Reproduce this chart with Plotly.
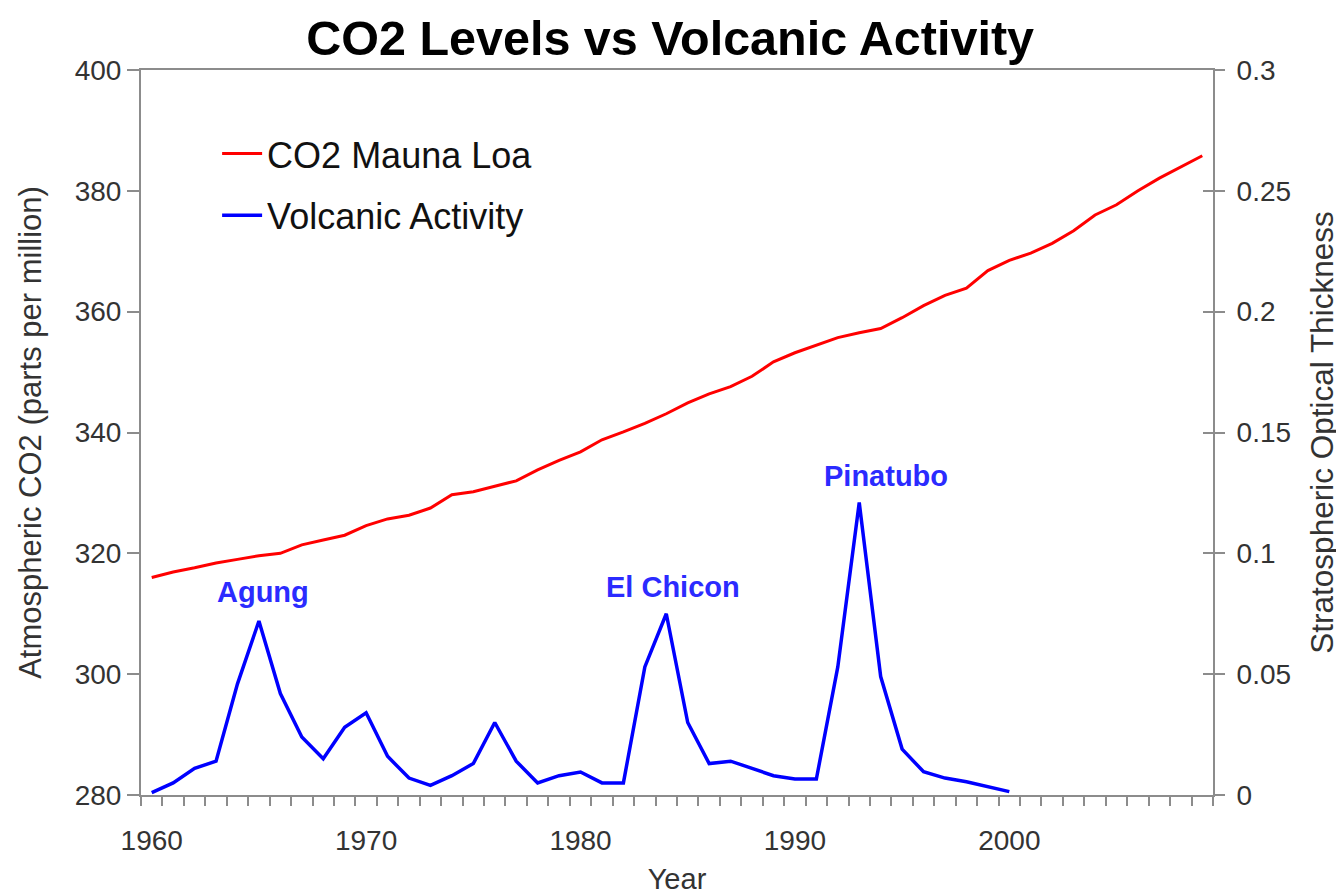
import plotly.graph_objects as go

years = list(range(1960, 2010))
co2 = [316.0, 316.9, 317.6, 318.4, 319.0, 319.6, 320.0, 321.4, 322.2, 323.0,
       324.6, 325.7, 326.3, 327.5, 329.7, 330.2, 331.1, 332.0, 333.8, 335.4,
       336.8, 338.8, 340.1, 341.5, 343.1, 344.9, 346.4, 347.6, 349.3, 351.7,
       353.2, 354.4, 355.7, 356.5, 357.2, 359.0, 361.0, 362.7, 363.9, 366.8,
       368.5, 369.7, 371.3, 373.4, 376.0, 377.7, 380.0, 382.1, 384.0, 385.8]
volc_years = list(range(1960, 2001))
volcanic = [0.001, 0.005, 0.011, 0.014, 0.046, 0.072, 0.042, 0.024, 0.015, 0.028,
            0.034, 0.016, 0.007, 0.004, 0.008, 0.013, 0.030, 0.014, 0.005, 0.008,
            0.0095, 0.005, 0.005, 0.053, 0.075, 0.030, 0.013, 0.014, 0.011, 0.008,
            0.0066, 0.0066, 0.053, 0.121, 0.049, 0.019, 0.0096, 0.007, 0.0055, 0.0034,
            0.0014]
x_tick_vals = [1960, 1970, 1980, 1990, 2000]
left_ticks = [280, 300, 320, 340, 360, 380, 400]
right_ticks = [0, 0.05, 0.1, 0.15, 0.2, 0.25, 0.3]
right_tick_text = ["0", "0.05", "0.1", "0.15", "0.2", "0.25", "0.3"]
eruptions = ["Agung", "El Chicon", "Pinatubo"]
eruption_x = [1965.2, 1984.3, 1994.25]
eruption_y = [0.084, 0.086, 0.132]

FONT = "Liberation Sans, Arial, sans-serif"
AXC = "#8c8c8c"
TXT = "#333333"

fig = go.Figure()
fig.add_trace(go.Scatter(x=years, y=co2, mode="lines", name="CO2 Mauna Loa",
                         line=dict(color="#ff0000", width=3), legendgroup="a"))
fig.add_trace(go.Scatter(x=volc_years, y=volcanic, mode="lines", name="Volcanic Activity",
                         line=dict(color="#0000ff", width=3.5), yaxis="y2", legendgroup="b"))

for name, ex, ey in zip(eruptions, eruption_x, eruption_y):
    fig.add_annotation(x=ex, y=ey, xref="x", yref="y2", text=name, showarrow=False,
                       font=dict(family=FONT, size=29, color="#2b2bff", weight="bold"),
                       xanchor="center", yanchor="middle")

fig.update_layout(
    width=1336, height=887,
    margin=dict(l=133, r=131, t=62, b=100),
    paper_bgcolor="white", plot_bgcolor="white",
    font=dict(family=FONT, color=TXT),
    title=dict(text="<b>CO2 Levels vs Volcanic Activity</b>", x=0.4936, xref="paper",
               xanchor="center", y=0.966, yanchor="middle",
               font=dict(family=FONT, size=48.5, color="#000000")),
    showlegend=True,
    legend=dict(x=0.071, y=0.926, xanchor="left", yanchor="top", itemwidth=40,
                font=dict(family=FONT, size=36, color="#111111"),
                bgcolor="rgba(0,0,0,0)", tracegroupgap=12),
    xaxis=dict(range=[1959.5, 2009.5], tickmode="array", tickvals=x_tick_vals,
               ticks="", showgrid=False, zeroline=False, automargin=False,
               showline=True, linecolor=AXC, linewidth=2, mirror=True,
               tickfont=dict(family=FONT, size=28, color=TXT),
               ticklabelstandoff=19,
               minor=dict(tickmode="linear", tick0=1959.5, dtick=1, ticks="outside",
                          ticklen=9, tickwidth=2, tickcolor=AXC, showgrid=False),
               title=dict(text="Year", font=dict(family=FONT, size=29, color=TXT),
                          standoff=17)),
    yaxis=dict(range=[280, 400], tickmode="array", tickvals=left_ticks,
               ticks="outside", ticklen=12, tickwidth=2, tickcolor=AXC, automargin=False,
               showgrid=False, zeroline=False, showline=True, linecolor=AXC, linewidth=2,
               tickfont=dict(family=FONT, size=28, color=TXT),
               title=dict(text="Atmospheric CO2 (parts per million)",
                          font=dict(family=FONT, size=31, color=TXT), standoff=24)),
    yaxis2=dict(range=[0, 0.3], overlaying="y", side="right", tickmode="array",
                tickvals=right_ticks, ticktext=right_tick_text, automargin=False,
                ticks="outside", ticklen=10, tickwidth=2, tickcolor=AXC,
                showgrid=False, zeroline=False, showline=True, linecolor=AXC, linewidth=2,
                tickfont=dict(family=FONT, size=28, color=TXT),
                ticklabelstandoff=6,
                title=dict(text="Stratospheric Optical Thickness",
                           font=dict(family=FONT, size=31.5, color=TXT), standoff=21)),
    yaxis3=dict(range=[0, 0.3], overlaying="y", side="right", tickmode="array",
                tickvals=right_ticks, ticks="inside", ticklen=10, tickwidth=2,
                tickcolor=AXC, showticklabels=False, showgrid=False, zeroline=False,
                showline=False, automargin=False),
)
fig.add_trace(go.Scatter(x=[None], y=[None], yaxis="y3", showlegend=False, hoverinfo="skip"))

fig.write_html("out.html")
